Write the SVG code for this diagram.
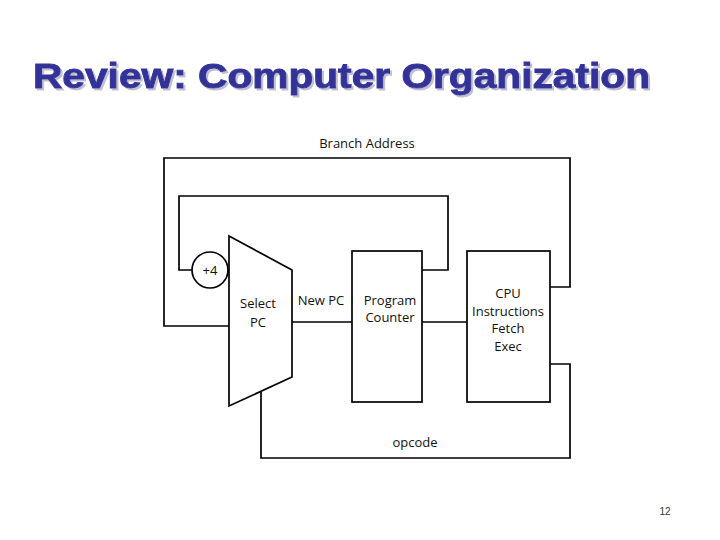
<svg xmlns="http://www.w3.org/2000/svg" width="720" height="540" viewBox="0 0 720 540">
<style>
.ln{fill:none;stroke:#000;stroke-width:1.7;stroke-linejoin:miter}
.bx{fill:#fff;stroke:#000;stroke-width:1.7}
.t{font-family:"Open Sans","Liberation Sans",sans-serif;font-size:13px;fill:#111;text-anchor:middle}
.title{font-family:"Liberation Sans",Arial,sans-serif;font-weight:bold;font-size:35px;fill:#333399;stroke:#333399;stroke-width:0.9}
</style>
<defs>
<filter id="sh" x="-5%" y="-20%" width="110%" height="140%">
<feDropShadow dx="2" dy="2" stdDeviation="0.6" flood-color="#b8b8cc" flood-opacity="0.9"/>
</filter>
</defs>
<rect width="720" height="540" fill="#fff"/>
<text class="title" x="33" y="88" textLength="617" lengthAdjust="spacingAndGlyphs" filter="url(#sh)">Review: Computer Organization</text>
<g id="connectors">
<polyline class="ln" points="550,287 570,287 570,158 164,158 164,326 229,326"/>
<polyline class="ln" points="422,270 448,270 448,196 179,196 179,270 192,270"/>
<line class="ln" x1="228" y1="270" x2="229" y2="270"/>
<line class="ln" x1="292" y1="322" x2="352" y2="322"/>
<line class="ln" x1="422" y1="322" x2="467" y2="322"/>
<polyline class="ln" points="550,364 570,364 570,458 261,458 261,391"/>
</g>
<g id="branch-label"><text class="t" x="367" y="148">Branch Address</text></g>
<g id="plus4">
<circle class="bx" cx="210" cy="270" r="18"/>
<text class="t" x="210" y="275">+4</text>
</g>
<g id="mux">
<polygon class="bx" points="229,236 292,270 292,377 229,406"/>
<text class="t" x="258" y="308">Select</text>
<text class="t" x="258" y="327">PC</text>
</g>
<g id="newpc-label"><text class="t" x="321" y="305">New PC</text></g>
<g id="pc">
<rect class="bx" x="352" y="251" width="70" height="151"/>
<text class="t" x="390" y="305">Program</text>
<text class="t" x="390" y="322">Counter</text>
</g>
<g id="cpu">
<rect class="bx" x="467" y="251" width="83" height="151"/>
<text class="t" x="508" y="298">CPU</text>
<text class="t" x="508" y="316">Instructions</text>
<text class="t" x="508" y="333">Fetch</text>
<text class="t" x="508" y="351">Exec</text>
</g>
<g id="opcode-label"><text class="t" x="415" y="447">opcode</text></g>
<text x="665" y="515" font-family="Liberation Sans,Arial,sans-serif" font-size="10" fill="#333" text-anchor="middle">12</text>
</svg>
